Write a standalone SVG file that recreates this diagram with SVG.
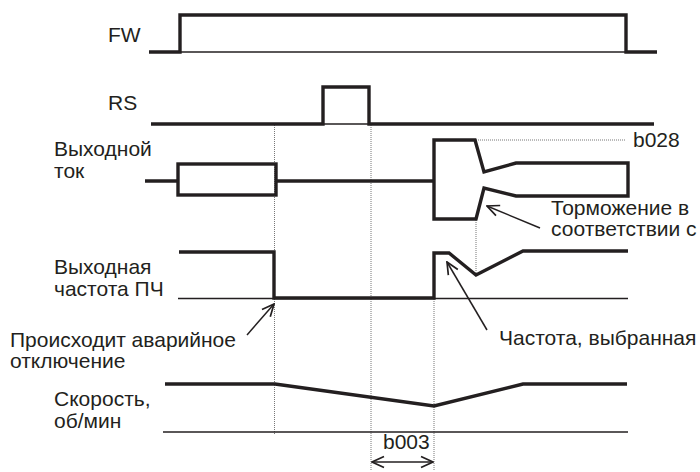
<svg xmlns="http://www.w3.org/2000/svg" width="700" height="472" viewBox="0 0 700 472">
<defs>
<style>
.lbl{font-family:"Liberation Sans",Arial,Helvetica,sans-serif;font-size:21px;fill:#231f20}
.thick{fill:none;stroke:#231f20;stroke-width:3.4;stroke-linejoin:miter;stroke-linecap:butt}
.thin{fill:none;stroke:#231f20;stroke-width:1.3}
.dot{fill:none;stroke:#777;stroke-width:1;stroke-dasharray:1 1}
.arr{fill:none;stroke:#231f20;stroke-width:1.5}
</style>
<marker id="ah" viewBox="0 0 14 14" refX="13" refY="7" markerWidth="14" markerHeight="14" markerUnits="userSpaceOnUse" orient="auto-start-reverse">
<path d="M1,1.5 L13,7 L1,12.5" fill="none" stroke="#231f20" stroke-width="1.7"/>
</marker>
</defs>
<rect width="700" height="472" fill="#fff"/>

<g id="connectors">
<line class="dot" x1="274.5" y1="125" x2="274.5" y2="434"/>
<line class="dot" x1="371" y1="125" x2="371" y2="470"/>
<line class="dot" x1="434" y1="299" x2="434" y2="470"/>
<line class="dot" x1="476" y1="220" x2="476" y2="274"/>
<line class="dot" x1="476" y1="140" x2="626" y2="140"/>
<line class="arr" x1="247" y1="335" x2="274" y2="304" marker-end="url(#ah)"/>
<line class="arr" x1="540" y1="228" x2="487" y2="206" marker-end="url(#ah)"/>
<line class="arr" x1="487" y1="330" x2="447" y2="262" marker-end="url(#ah)"/>
<line class="arr" x1="372" y1="462" x2="433" y2="462" marker-start="url(#ah)" marker-end="url(#ah)"/>
</g>

<g id="fw">
<text class="lbl" x="108" y="42">FW</text>
<line class="thin" x1="180" y1="52" x2="626" y2="52"/>
<polyline class="thick" points="149,52 180,52 180,15 626,15 626,52 657,52"/>
</g>

<g id="rs">
<text class="lbl" x="108" y="110">RS</text>
<line class="thin" x1="323" y1="124" x2="369" y2="124"/>
<polyline class="thick" points="151,124 323,124 323,87 369,87 369,124 654,124"/>
</g>

<g id="current">
<text class="lbl" x="54" y="156">Выходной</text>
<text class="lbl" x="54" y="177.5">ток</text>
<line class="thick" x1="145" y1="181" x2="178" y2="181"/>
<rect class="thick" x="178" y="164" width="98" height="31"/>
<line class="thick" x1="276" y1="181" x2="434" y2="181"/>
<path class="thick" d="M434,140 L475,140 L484,172 L516,163 L628,163 L628,196 L516,196 L484,188 L476,219 L434,219 Z"/>
<text class="lbl" x="633" y="147">b028</text>
<text class="lbl" x="551" y="215">Торможение в</text>
<text class="lbl" x="551" y="236">соответствии с</text>
</g>

<g id="frequency">
<text class="lbl" x="54" y="274">Выходная</text>
<text class="lbl" x="54" y="296">частота ПЧ</text>
<line class="thin" x1="178" y1="298.5" x2="628" y2="298.5"/>
<polyline class="thick" points="179,252 274,252 274,298 434,298 434,253 449,253 476,275 523,251 628,251"/>
<text class="lbl" x="499" y="345">Частота, выбранная</text>
</g>

<g id="trip">
<text class="lbl" x="10" y="347">Происходит аварийное</text>
<text class="lbl" x="10" y="368">отключение</text>
</g>

<g id="speed">
<text class="lbl" x="54" y="406">Скорость,</text>
<text class="lbl" x="54" y="427.5">об/мин</text>
<line class="thin" x1="163" y1="432" x2="628" y2="432"/>
<polyline class="thick" points="165,384 275,384 434,406 523,384 627,384"/>
<text class="lbl" x="383" y="449">b003</text>
</g>
</svg>
